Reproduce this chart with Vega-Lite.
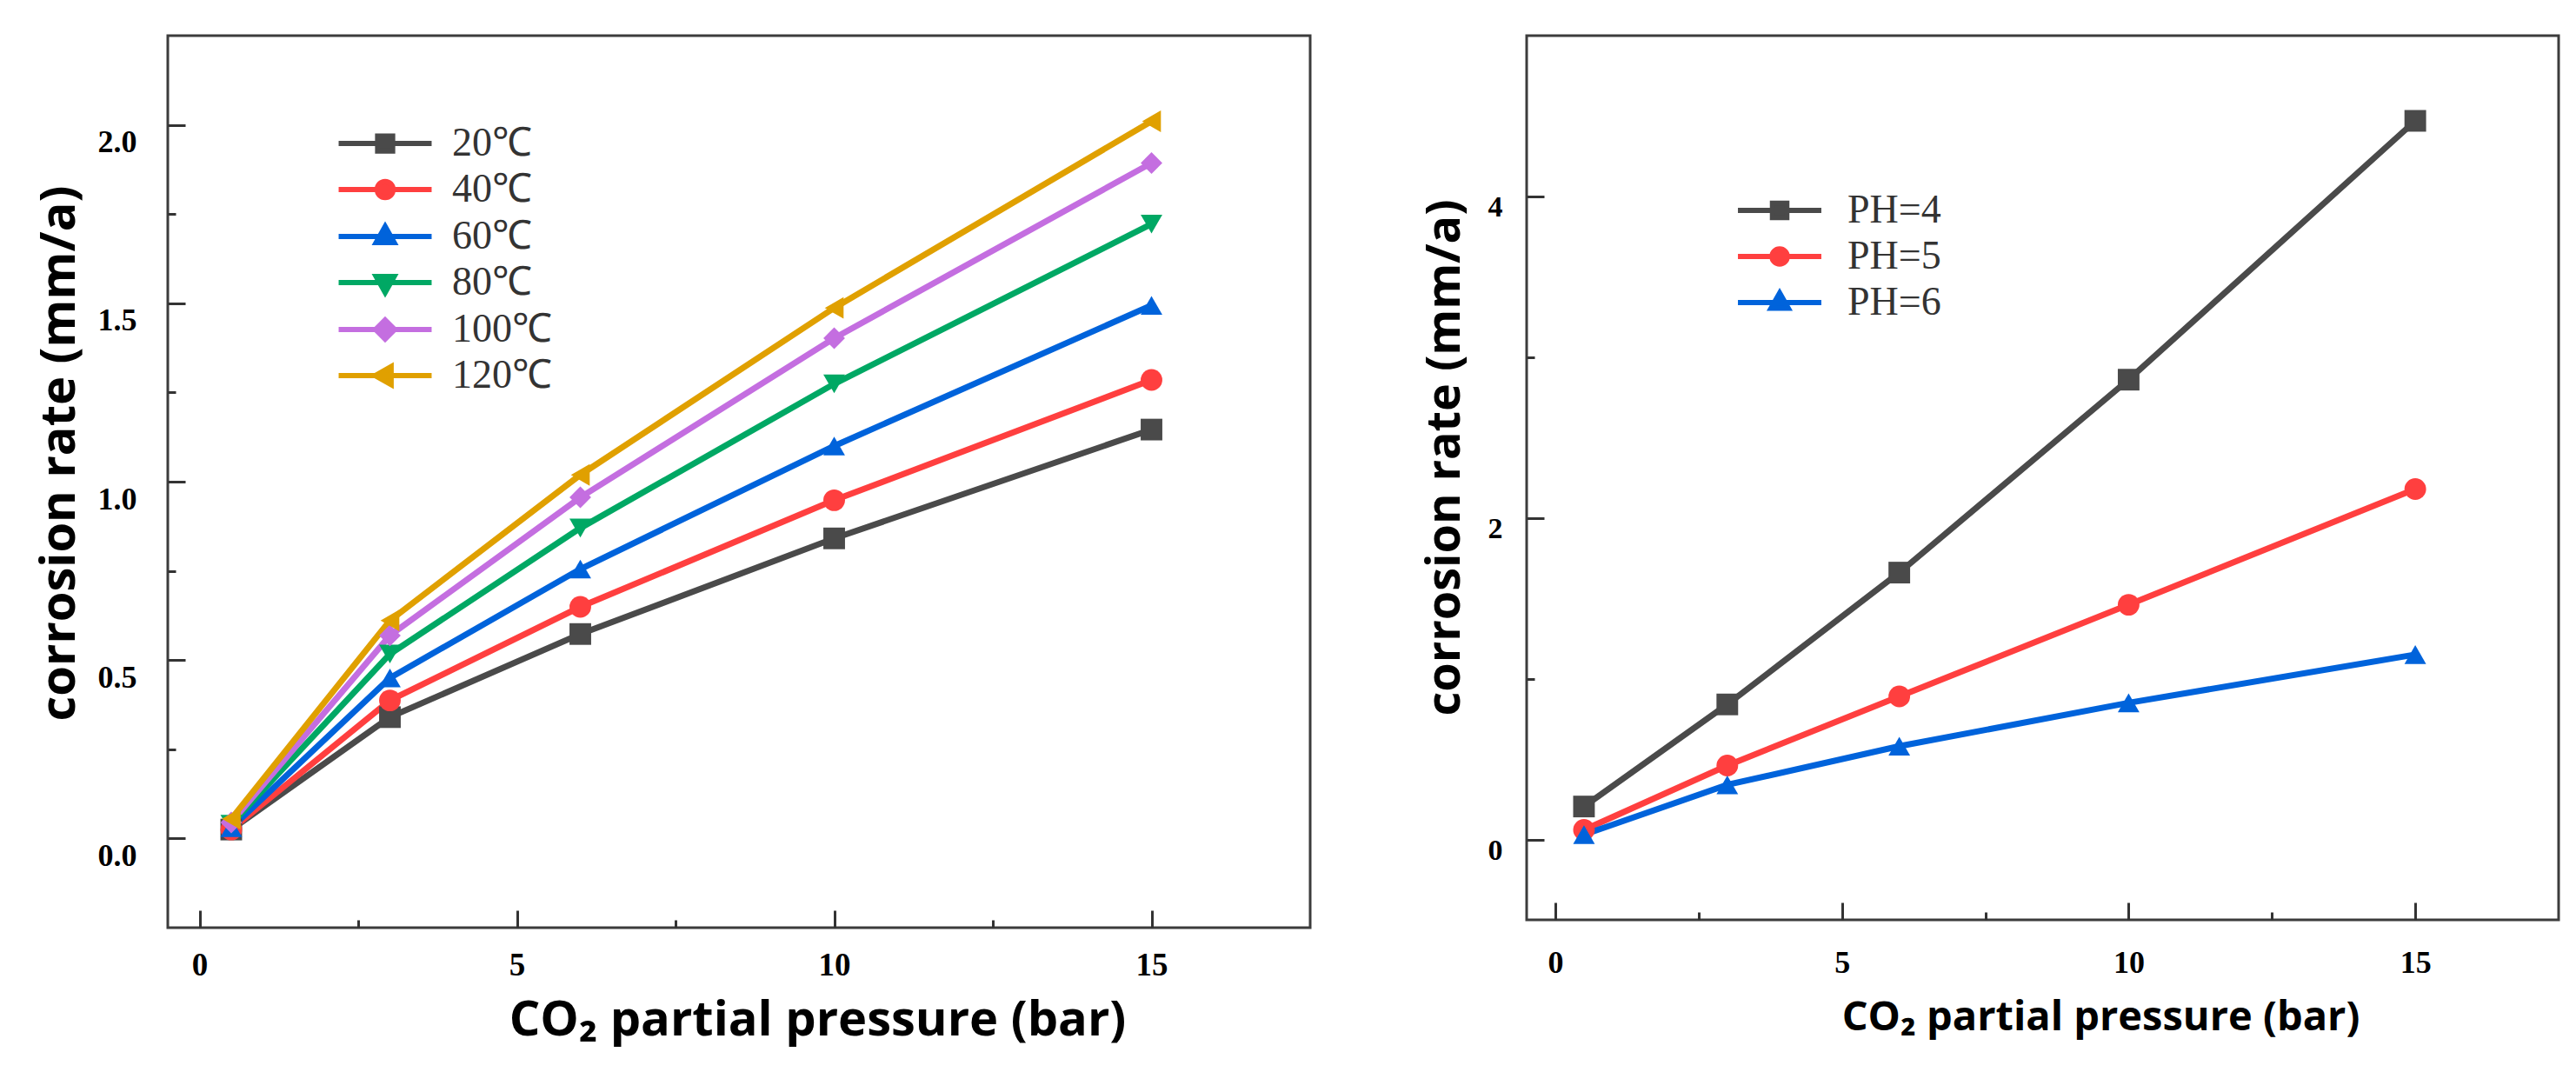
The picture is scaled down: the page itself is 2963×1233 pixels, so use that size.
{
  "$schema": "https://vega.github.io/schema/vega-lite/v6.json",
  "padding": {"left": 38, "top": 39, "right": 10, "bottom": 10},
  "config": {
    "view": {"stroke": "#3c3c3c", "strokeWidth": 3},
    "axis": {
      "domain": false,
      "grid": false,
      "tickColor": "#333333",
      "tickWidth": 3,
      "labelFont": "Liberation Serif",
      "labelFontWeight": "bold",
      "labelColor": "black",
      "titleFont": "Open Sans",
      "titleFontWeight": "bold",
      "titleColor": "black"
    }
  },
  "datasets": {
    "temp": [
      {"series": "20℃", "pressure": 0.5, "rate": 0.025},
      {"series": "20℃", "pressure": 3, "rate": 0.34},
      {"series": "20℃", "pressure": 6, "rate": 0.573},
      {"series": "20℃", "pressure": 10, "rate": 0.841},
      {"series": "20℃", "pressure": 15, "rate": 1.146},
      {"series": "40℃", "pressure": 0.5, "rate": 0.025},
      {"series": "40℃", "pressure": 3, "rate": 0.387},
      {"series": "40℃", "pressure": 6, "rate": 0.649},
      {"series": "40℃", "pressure": 10, "rate": 0.948},
      {"series": "40℃", "pressure": 15, "rate": 1.285},
      {"series": "60℃", "pressure": 0.5, "rate": 0.03},
      {"series": "60℃", "pressure": 3, "rate": 0.45},
      {"series": "60℃", "pressure": 6, "rate": 0.755},
      {"series": "60℃", "pressure": 10, "rate": 1.1},
      {"series": "60℃", "pressure": 15, "rate": 1.494},
      {"series": "80℃", "pressure": 0.5, "rate": 0.04},
      {"series": "80℃", "pressure": 3, "rate": 0.517},
      {"series": "80℃", "pressure": 6, "rate": 0.87},
      {"series": "80℃", "pressure": 10, "rate": 1.274},
      {"series": "80℃", "pressure": 15, "rate": 1.722},
      {"series": "100℃", "pressure": 0.5, "rate": 0.045},
      {"series": "100℃", "pressure": 3, "rate": 0.569},
      {"series": "100℃", "pressure": 6, "rate": 0.956},
      {"series": "100℃", "pressure": 10, "rate": 1.402},
      {"series": "100℃", "pressure": 15, "rate": 1.893},
      {"series": "120℃", "pressure": 0.5, "rate": 0.055},
      {"series": "120℃", "pressure": 3, "rate": 0.611},
      {"series": "120℃", "pressure": 6, "rate": 1.019},
      {"series": "120℃", "pressure": 10, "rate": 1.487},
      {"series": "120℃", "pressure": 15, "rate": 2.01}
    ],
    "ph": [
      {"series": "PH=4", "pressure": 0.5, "rate": 0.205},
      {"series": "PH=4", "pressure": 3, "rate": 0.84},
      {"series": "PH=4", "pressure": 6, "rate": 1.66},
      {"series": "PH=4", "pressure": 10, "rate": 2.86},
      {"series": "PH=4", "pressure": 15, "rate": 4.47},
      {"series": "PH=5", "pressure": 0.5, "rate": 0.06},
      {"series": "PH=5", "pressure": 3, "rate": 0.46},
      {"series": "PH=5", "pressure": 6, "rate": 0.89},
      {"series": "PH=5", "pressure": 10, "rate": 1.46},
      {"series": "PH=5", "pressure": 15, "rate": 2.18},
      {"series": "PH=6", "pressure": 0.5, "rate": 0.03},
      {"series": "PH=6", "pressure": 3, "rate": 0.34},
      {"series": "PH=6", "pressure": 6, "rate": 0.58},
      {"series": "PH=6", "pressure": 10, "rate": 0.85},
      {"series": "PH=6", "pressure": 15, "rate": 1.15}
    ]
  },
  "spacing": 124,
  "hconcat": [
    {
      "width": 1314,
      "height": 1026,
      "data": {"name": "temp"},
      "encoding": {
        "x": {
          "field": "pressure",
          "type": "quantitative",
          "scale": {"domain": [-0.5, 17.5], "nice": false, "zero": false},
          "axis": {
            "values": [0, 2.5, 5, 7.5, 10, 12.5, 15],
            "labelExpr": "datum.value % 5 === 0 ? format(datum.value, 'd') : ''",
            "tickSize": {"condition": {"test": "datum.value % 5 === 0", "value": -20}, "value": -9},
            "labelFontSize": 37,
            "labelBaseline": "top",
            "labelPadding": 45,
            "title": "CO₂ partial pressure (bar)",
            "titleFontSize": 56,
            "titleX": 747,
            "titleY": 123,
            "titleBaseline": "alphabetic"
          }
        },
        "y": {
          "field": "rate",
          "type": "quantitative",
          "scale": {"domain": [-0.25, 2.25], "nice": false, "zero": false},
          "axis": {
            "values": [0, 0.25, 0.5, 0.75, 1, 1.25, 1.5, 1.75, 2],
            "labelExpr": "datum.value % 0.5 === 0 ? format(datum.value, '.1f') : ''",
            "tickSize": {"condition": {"test": "datum.value % 0.5 === 0", "value": -20}, "value": -9},
            "labelFontSize": 36,
            "labelPadding": 56,
            "labelOffset": 20,
            "title": "corrosion rate (mm/a)",
            "titleFontSize": 56,
            "titleX": -124.7,
            "titleY": 480,
            "titleBaseline": "middle"
          }
        }
      },
      "layer": [
        {
          "mark": {"type": "line", "strokeWidth": 7},
          "encoding": {
            "color": {
              "field": "series",
              "type": "nominal",
              "scale": {
                "domain": ["20℃", "40℃", "60℃", "80℃", "100℃", "120℃"],
                "range": ["#4a4a4a", "#ff3f3f", "#0063db", "#00a864", "#c46ee0", "#e0a000"]
              },
              "legend": null
            }
          }
        },
        {
          "mark": {"type": "point", "filled": true, "opacity": 1, "size": 620, "strokeWidth": 0},
          "encoding": {
            "color": {
              "field": "series",
              "type": "nominal",
              "scale": {
                "domain": ["20℃", "40℃", "60℃", "80℃", "100℃", "120℃"],
                "range": ["#4a4a4a", "#ff3f3f", "#0063db", "#00a864", "#c46ee0", "#e0a000"]
              },
              "legend": null
            },
            "shape": {
              "field": "series",
              "type": "nominal",
              "scale": {
                "domain": ["20℃", "40℃", "60℃", "80℃", "100℃", "120℃"],
                "range": ["square", "circle", "triangle-up", "triangle-down", "diamond", "triangle-left"]
              },
              "legend": null
            }
          }
        },
        {
          "mark": {"type": "point", "opacity": 0},
          "encoding": {
            "fill": {
              "field": "series",
              "type": "nominal",
              "scale": {
                "domain": ["20℃", "40℃", "60℃", "80℃", "100℃", "120℃"],
                "range": ["#4a4a4a", "#ff3f3f", "#0063db", "#00a864", "#c46ee0", "#e0a000"]
              },
              "legend": {"orient": "none", "legendX": 227, "legendY": 101, "title": null}
            },
            "stroke": {
              "field": "series",
              "type": "nominal",
              "scale": {
                "domain": ["20℃", "40℃", "60℃", "80℃", "100℃", "120℃"],
                "range": ["#4a4a4a", "#ff3f3f", "#0063db", "#00a864", "#c46ee0", "#e0a000"]
              },
              "legend": {"orient": "none", "legendX": 227, "legendY": 101, "title": null}
            },
            "shape": {
              "field": "series",
              "type": "nominal",
              "scale": {
                "domain": ["20℃", "40℃", "60℃", "80℃", "100℃", "120℃"],
                "range": [
                  "M-4.65,0H4.65M-0.75,-0.75H0.75V0.75H-0.75Z",
                  "M-4.65,0H4.65M0.8,0A0.8,0.8,0,1,1,-0.8,0A0.8,0.8,0,1,1,0.8,0Z",
                  "M-4.65,0H4.65M0,-1L0.9,0.6H-0.9Z",
                  "M-4.65,0H4.65M0,1L0.9,-0.6H-0.9Z",
                  "M-4.65,0H4.65M0,-0.95L0.95,0L0,0.95L-0.95,0Z",
                  "M-4.65,0H4.65M-1,0L0.6,-0.9V0.9Z"
                ]
              },
              "legend": {
                "orient": "none",
                "legendX": 227,
                "legendY": 101,
                "title": null,
                "padding": 0,
                "symbolSize": 529,
                "symbolStrokeWidth": 6,
                "symbolOpacity": 1,
                "labelFont": "Liberation Serif",
                "labelFontSize": 46,
                "labelColor": "#333333",
                "labelOffset": 54,
                "rowPadding": 7
              }
            }
          }
        }
      ],
      "resolve": {"scale": {"shape": "independent", "fill": "independent", "stroke": "independent"}}
    },
    {
      "width": 1187,
      "height": 1017,
      "data": {"name": "ph"},
      "encoding": {
        "x": {
          "field": "pressure",
          "type": "quantitative",
          "scale": {"domain": [-0.5, 17.5], "nice": false, "zero": false},
          "axis": {
            "values": [0, 2.5, 5, 7.5, 10, 12.5, 15],
            "labelExpr": "datum.value % 5 === 0 ? format(datum.value, 'd') : ''",
            "tickSize": {"condition": {"test": "datum.value % 5 === 0", "value": -20}, "value": -9},
            "labelFontSize": 36,
            "labelBaseline": "top",
            "labelPadding": 52,
            "title": "CO₂ partial pressure (bar)",
            "titleFontSize": 47,
            "titleX": 660,
            "titleY": 126,
            "titleBaseline": "alphabetic"
          }
        },
        "y": {
          "field": "rate",
          "type": "quantitative",
          "scale": {"domain": [-0.5, 5], "nice": false, "zero": false},
          "axis": {
            "values": [0, 1, 2, 3, 4],
            "labelExpr": "datum.value % 2 === 0 ? format(datum.value, 'd') : ''",
            "tickSize": {"condition": {"test": "datum.value % 2 === 0", "value": -20}, "value": -9},
            "labelFontSize": 34,
            "labelPadding": 48,
            "labelOffset": 13,
            "title": "corrosion rate (mm/a)",
            "titleFontSize": 54,
            "titleX": -93.7,
            "titleY": 485,
            "titleBaseline": "middle"
          }
        }
      },
      "layer": [
        {
          "mark": {"type": "line", "strokeWidth": 7},
          "encoding": {
            "color": {
              "field": "series",
              "type": "nominal",
              "scale": {"domain": ["PH=4", "PH=5", "PH=6"], "range": ["#4a4a4a", "#ff3f3f", "#0063db"]},
              "legend": null
            }
          }
        },
        {
          "mark": {"type": "point", "filled": true, "opacity": 1, "size": 620, "strokeWidth": 0},
          "encoding": {
            "color": {
              "field": "series",
              "type": "nominal",
              "scale": {"domain": ["PH=4", "PH=5", "PH=6"], "range": ["#4a4a4a", "#ff3f3f", "#0063db"]},
              "legend": null
            },
            "shape": {
              "field": "series",
              "type": "nominal",
              "scale": {"domain": ["PH=4", "PH=5", "PH=6"], "range": ["square", "circle", "triangle-up"]},
              "legend": null
            }
          }
        },
        {
          "mark": {"type": "point", "opacity": 0},
          "encoding": {
            "fill": {
              "field": "series",
              "type": "nominal",
              "scale": {"domain": ["PH=4", "PH=5", "PH=6"], "range": ["#4a4a4a", "#ff3f3f", "#0063db"]},
              "legend": {"orient": "none", "legendX": 268, "legendY": 178, "title": null}
            },
            "stroke": {
              "field": "series",
              "type": "nominal",
              "scale": {"domain": ["PH=4", "PH=5", "PH=6"], "range": ["#4a4a4a", "#ff3f3f", "#0063db"]},
              "legend": {"orient": "none", "legendX": 268, "legendY": 178, "title": null}
            },
            "shape": {
              "field": "series",
              "type": "nominal",
              "scale": {
                "domain": ["PH=4", "PH=5", "PH=6"],
                "range": [
                  "M-4.36,0H4.36M-0.75,-0.75H0.75V0.75H-0.75Z",
                  "M-4.36,0H4.36M0.8,0A0.8,0.8,0,1,1,-0.8,0A0.8,0.8,0,1,1,0.8,0Z",
                  "M-4.36,0H4.36M0,-1L0.9,0.6H-0.9Z"
                ]
              },
              "legend": {
                "orient": "none",
                "legendX": 268,
                "legendY": 178,
                "title": null,
                "padding": 0,
                "symbolSize": 484,
                "symbolStrokeWidth": 6,
                "symbolOpacity": 1,
                "labelFont": "Liberation Serif",
                "labelFontSize": 46,
                "labelColor": "#333333",
                "labelOffset": 55,
                "rowPadding": 7
              }
            }
          }
        }
      ],
      "resolve": {"scale": {"shape": "independent", "fill": "independent", "stroke": "independent"}}
    }
  ],
  "resolve": {
    "scale": {"x": "independent", "y": "independent", "color": "independent", "shape": "independent", "fill": "independent", "stroke": "independent"}
  }
}
